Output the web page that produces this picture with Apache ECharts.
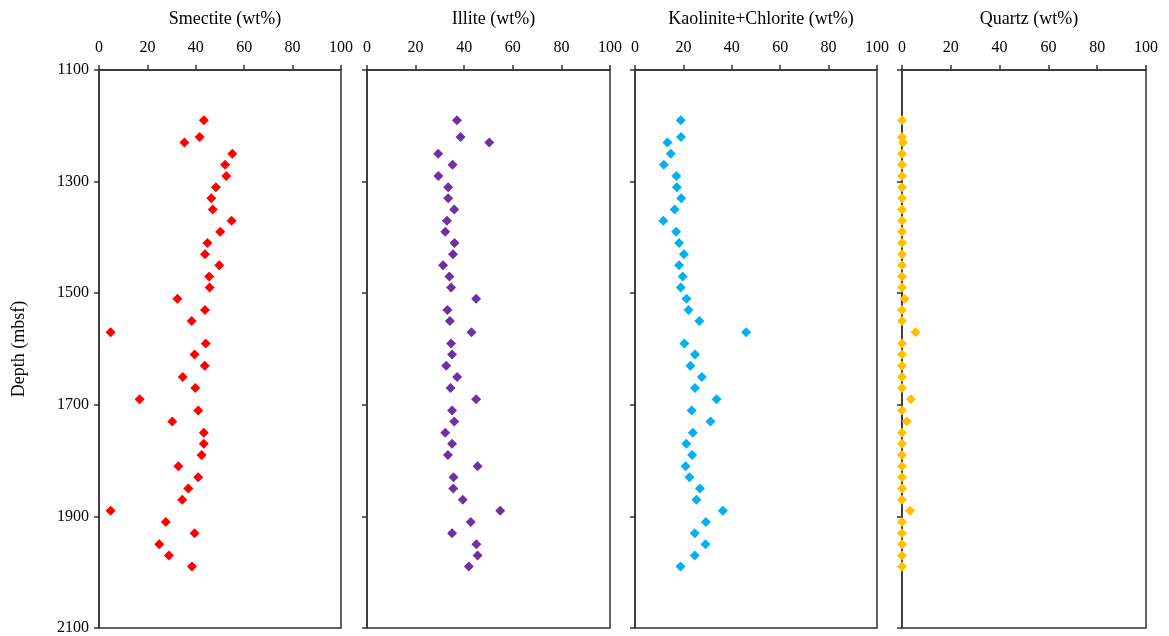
<!DOCTYPE html>
<html lang="en">
<head>
    <meta charset="UTF-8">
    <title>Clay minerals vs depth</title>
    <script src="https://cdn.jsdelivr.net/npm/echarts@6/dist/echarts.min.js"></script>
    <style>
        body { margin: 0; background: #fff; }
        #main { width: 1169px; height: 636px; }
    </style>
</head>
<body>
    <div id="main"></div>
    <script type="text/javascript">
        // depth of each sample (mbsf)
        var depths = [1190, 1220, 1230, 1250, 1270, 1290, 1310, 1330, 1350, 1370,
            1390, 1410, 1430, 1450, 1470, 1490, 1510, 1530, 1550, 1570,
            1590, 1610, 1630, 1650, 1670, 1690, 1710, 1730, 1750, 1770,
            1790, 1810, 1830, 1850, 1870, 1890, 1910, 1930, 1950, 1970, 1990];

        var smectite = [43.3, 41.6, 35.3, 55.1, 52.1, 52.6, 48.3, 46.4, 47.0, 54.8,
            50.1, 44.8, 43.8, 49.7, 45.5, 45.7, 32.4, 43.8, 38.3, 4.8,
            44.1, 39.5, 43.7, 34.6, 39.8, 16.8, 41.0, 30.3, 43.3, 43.3,
            42.4, 32.8, 41.0, 36.9, 34.4, 4.8, 27.6, 39.5, 24.9, 28.9, 38.4];

        var illite = [37.0, 38.5, 50.3, 29.3, 35.2, 29.4, 33.4, 33.4, 35.9, 32.9,
            32.2, 36.0, 35.4, 31.3, 33.9, 34.6, 44.9, 33.1, 34.1, 43.0,
            34.6, 35.0, 32.6, 37.1, 34.4, 44.9, 35.0, 35.9, 32.2, 35.0,
            33.3, 45.5, 35.6, 35.5, 39.4, 54.8, 42.7, 35.0, 45.0, 45.5, 41.9];

        var kaoChl = [18.9, 19.0, 13.4, 14.8, 11.9, 17.1, 17.3, 19.1, 16.4, 11.7,
            17.0, 18.2, 20.2, 18.2, 19.7, 18.9, 21.3, 22.1, 26.6, 45.9,
            20.4, 24.8, 22.9, 27.6, 24.8, 33.7, 23.4, 31.2, 23.9, 21.2,
            23.6, 20.9, 22.5, 26.8, 25.4, 36.3, 29.3, 24.7, 29.1, 24.7, 18.8];

        var quartz = [0, 0, 0.4, 0, 0, 0, 0, 0, 0, 0,
            0, 0, 0, 0, 0, 0, 1.1, 0, 0, 5.5,
            0, 0, 0, 0, 0, 3.6, 0, 2.0, 0, 0,
            0, 0, 0, 0, 0, 3.3, 0, 0, 0, 0, 0];

        var titles = ['Smectite (wt%)', 'Illite (wt%)', 'Kaolinite+Chlorite (wt%)', 'Quartz (wt%)'];
        var colors = ['#ff0000', '#7030a0', '#00b0f0', '#ffc000'];
        var values = [smectite, illite, kaoChl, quartz];
        var lefts = [99, 367, 635, 902];
        var widths = [242, 243, 242, 244];

        var serif = '"Liberation Serif", "DejaVu Serif", serif';
        var lineColor = '#333';

        var option = {
            backgroundColor: '#fff',
            title: [],
            grid: [],
            xAxis: [],
            yAxis: [],
            series: []
        };

        for (var i = 0; i < 4; i++) {
            option.title.push({
                text: titles[i],
                left: lefts[i] + widths[i] / 2,
                top: 5,
                textAlign: 'center',
                textStyle: { fontFamily: serif, fontSize: 18, fontWeight: 'normal', color: '#000' }
            });
            option.grid.push({
                left: lefts[i], width: widths[i], top: 70, height: 558,
                show: true, borderColor: lineColor, borderWidth: 1.5, backgroundColor: 'transparent'
            });
            option.xAxis.push({
                type: 'value', gridIndex: i, position: 'top',
                min: 0, max: 100, interval: 20,
                axisLine: { show: true, lineStyle: { color: lineColor, width: 1.5 } },
                axisTick: { show: true, inside: false, length: 5, lineStyle: { color: lineColor, width: 1.5 } },
                axisLabel: { margin: 14, fontFamily: serif, fontSize: 16, color: '#000' },
                splitLine: { show: false }
            });
            option.yAxis.push({
                type: 'value', gridIndex: i, inverse: true,
                min: 1100, max: 2100, interval: 200,
                name: i === 0 ? 'Depth (mbsf)' : '',
                nameLocation: 'middle', nameGap: 71, nameRotate: 90,
                nameTextStyle: { fontFamily: serif, fontSize: 18, color: '#000' },
                axisLine: { show: true, lineStyle: { color: lineColor, width: 1.5 } },
                axisTick: { show: true, inside: false, length: 5, lineStyle: { color: lineColor, width: 1.5 } },
                axisLabel: {
                    show: i === 0, margin: 10, fontFamily: serif, fontSize: 16, color: '#000',
                    formatter: function (v) { return String(v); }
                },
                splitLine: { show: false }
            });
            option.series.push({
                type: 'scatter', xAxisIndex: i, yAxisIndex: i,
                symbol: 'diamond', symbolSize: 10,
                itemStyle: { color: colors[i], opacity: 1 },
                data: values[i].map(function (v, k) { return [v, depths[k]]; })
            });
        }

        var chart = echarts.init(document.getElementById('main'));
        chart.setOption(option);
    </script>
</body>
</html>
